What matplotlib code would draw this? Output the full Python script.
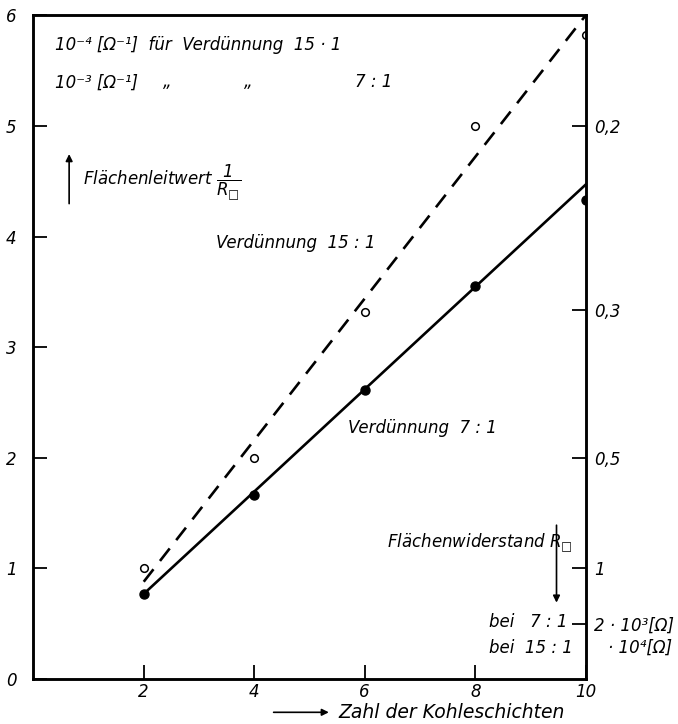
import numpy as np
import matplotlib
matplotlib.use("Agg")
from matplotlib import pyplot as plt

# data
layers = [2, 4, 6, 8, 10]
g_7_1 = [0.77, 1.66, 2.61, 3.55, 4.33]      # filled points, Verduennung 7:1
g_15_1 = [1.00, 2.00, 3.32, 5.00, 5.82]     # open points, Verduennung 15:1
fit_x = [2, 10]
fit_7_1 = [0.77, 4.47]
fit_15_1 = [0.88, 6.00]

left_ticks = [0, 1, 2, 3, 4, 5, 6]
x_ticks = [2, 4, 6, 8, 10]
# right axis: resistance R = 1/G
r_vals = [0.2, 0.3, 0.5, 1, 2]
r_labels = ["0,2", "0,3", "0,5", "1", "2 · 10³[Ω]"]

plt.rcParams["font.family"] = ["DejaVu Sans"]
plt.rcParams["font.style"] = "italic"
plt.rcParams["mathtext.default"] = "it"
FS = 12

fig = plt.figure(figsize=(6.78, 7.24), dpi=100)
ax = fig.add_axes([0.049, 0.062, 0.815, 0.917])
ax.set_xlim(0, 10)
ax.set_ylim(0, 6)

ax.plot(fit_x, fit_7_1, "-", color="k", lw=1.9)
ax.plot(fit_x, fit_15_1, color="k", lw=1.9, dashes=(6, 4))
ax.plot(layers, g_7_1, "o", color="k", ms=6.5)
ax.plot(layers, g_15_1, "o", mfc="white", mec="k", mew=1.1, ms=5.5)

for s in ax.spines.values():
    s.set_linewidth(1.8)

ax.set_xticks(x_ticks)
ax.set_xticklabels([str(v) for v in x_ticks], fontsize=FS, style="italic")
ax.set_yticks(left_ticks)
ax.set_yticklabels([str(v) for v in left_ticks], fontsize=FS, style="italic")
ax.tick_params(direction="in", length=10, width=1.3, pad=3)
ax.tick_params(axis="y", pad=12)

ax2 = ax.twinx()
ax2.set_ylim(0, 6)
ax2.set_yticks([1 / r for r in r_vals])
ax2.set_yticklabels(r_labels, fontsize=FS, style="italic")
ax2.tick_params(direction="in", length=10, width=1.3, pad=6)
for s in ax2.spines.values():
    s.set_linewidth(1.8)
ax2.text(1.04, 0.047, "· 10⁴[Ω]", transform=ax2.transAxes, fontsize=FS,
         ha="left", va="center")

# annotations
ax.text(0.04, 0.955, "10⁻⁴ [Ω⁻¹]  für  Verdünnung  15 · 1",
        transform=ax.transAxes, fontsize=FS, va="center")
ax.text(0.04, 0.899, "10⁻³ [Ω⁻¹]", transform=ax.transAxes, fontsize=FS, va="center")
ax.text(0.235, 0.899, "„", transform=ax.transAxes, fontsize=FS, va="center")
ax.text(0.382, 0.899, "„", transform=ax.transAxes, fontsize=FS, va="center")
ax.text(0.582, 0.899, "7 : 1", transform=ax.transAxes, fontsize=FS, va="center")

ax.annotate("", xy=(0.065, 0.795), xytext=(0.065, 0.712), xycoords="axes fraction",
            arrowprops=dict(arrowstyle="-|>", color="k", lw=1.2))
ax.text(0.09, 0.748, "Flächenleitwert $\\dfrac{1}{R_{□}}$",
        transform=ax.transAxes, fontsize=FS, va="center")

ax.text(0.33, 0.657, "Verdünnung  15 : 1", transform=ax.transAxes, fontsize=FS, va="center")
ax.text(0.57, 0.378, "Verdünnung  7 : 1", transform=ax.transAxes, fontsize=FS, va="center")

ax.text(0.64, 0.205, "Flächenwiderstand $R_{□}$", transform=ax.transAxes,
        fontsize=FS, va="center")
ax.annotate("", xy=(0.947, 0.111), xytext=(0.947, 0.236), xycoords="axes fraction",
            arrowprops=dict(arrowstyle="-|>", color="k", lw=1.2))
ax.text(0.825, 0.086, "bei   7 : 1", transform=ax.transAxes, fontsize=FS, va="center")
ax.text(0.825, 0.047, "bei  15 : 1", transform=ax.transAxes, fontsize=FS, va="center")

# x label with arrow
ax.annotate("", xy=(0.54, -0.05), xytext=(0.43, -0.05), xycoords="axes fraction",
            arrowprops=dict(arrowstyle="-|>", color="k", lw=1.2))
ax.text(0.552, -0.05, "Zahl der Kohleschichten", transform=ax.transAxes,
        fontsize=13.5, va="center")

fig.savefig("out.png", dpi=100)
